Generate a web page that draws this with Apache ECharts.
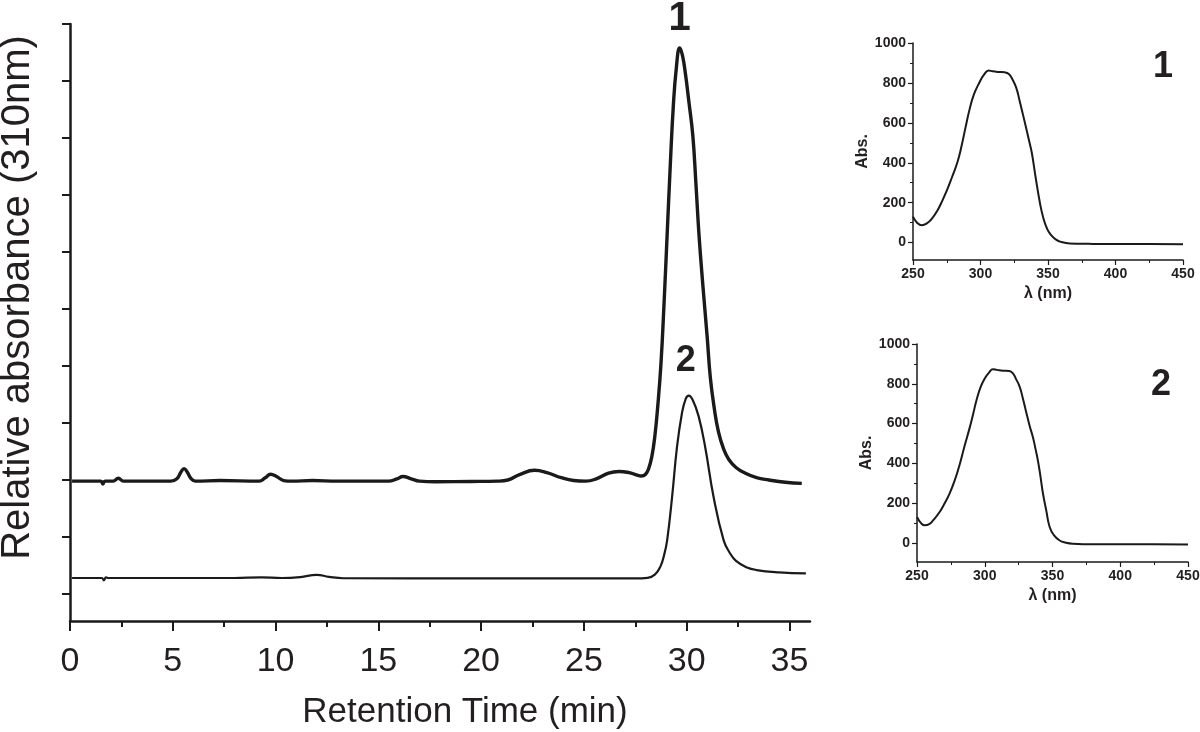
<!DOCTYPE html>
<html>
<head>
<meta charset="utf-8">
<script src="https://cdn.jsdelivr.net/npm/echarts@6/dist/echarts.min.js"></script>
<style>html,body{margin:0;padding:0;background:#fff;}#chart{width:1200px;height:732px;}</style>
</head>
<body>
<div id="chart"></div>
<script>
// ---- Chromatogram (main panel) ----
const time1 = [0.1,1.5,1.6,1.7,2.1,2.35,2.6,4.9,5.2,5.4,5.55,5.7,5.9,6.1,7.3,9.2,9.5,9.76,10.05,10.4,10.8,11.8,13.0,15.5,15.9,16.2,16.6,17.0,17.8,19.5,20.8,21.3,21.9,22.6,23.2,23.9,24.5,25.1,25.6,26.2,26.7,27.2,27.55,27.8,28.0,28.15,28.3,28.45,28.6,28.75,28.9,29.05,29.2,29.35,29.5,29.66,29.8,29.95,30.1,30.3,30.45,30.6,30.8,31.0,31.15,31.35,31.55,31.8,32.05,32.4,32.85,33.4,34.0,34.8,35.6];
const abs1  = [0.99,0.99,0.965,0.99,0.99,1.015,0.99,0.99,1.01,1.07,1.10,1.07,1.01,0.99,0.995,0.99,1.02,1.05,1.03,0.995,0.99,0.995,0.99,0.99,1.01,1.03,1.01,0.99,0.985,0.987,0.99,1.0,1.05,1.085,1.065,1.02,0.995,0.99,1.01,1.06,1.075,1.065,1.045,1.035,1.05,1.10,1.20,1.38,1.66,2.02,2.55,3.15,3.75,4.28,4.62,4.79,4.72,4.55,4.33,4.02,3.60,3.15,2.68,2.25,1.90,1.62,1.42,1.27,1.18,1.11,1.06,1.02,1.0,0.98,0.97];
const time2 = [0.1,1.55,1.65,1.75,1.9,8.0,9.3,10.3,11.2,12.0,12.6,13.3,20.0,27.5,28.1,28.45,28.72,28.9,29.05,29.29,29.53,29.77,29.95,30.1,30.3,30.58,30.9,31.31,31.8,32.1,32.4,32.9,33.4,34.5,35.8];
const abs2  = [0.14,0.14,0.12,0.145,0.14,0.14,0.146,0.14,0.148,0.168,0.15,0.138,0.137,0.137,0.142,0.17,0.24,0.34,0.47,0.85,1.29,1.585,1.71,1.74,1.70,1.56,1.29,0.85,0.47,0.36,0.29,0.235,0.21,0.19,0.18];
const peakLabels = ['1','2'];
const xMajorTicks = [0,5,10,15,20,25,30,35];
const xMinorTicks = [2.5,7.5,12.5,17.5,22.5,27.5,32.5];
const yTicks = [0,0.5,1,1.5,2,2.5,3,3.5,4,4.5,5];

// ---- UV spectra (insets) ----
const wl1   = [250,253,256.5,260,264,268,271,275,279,283,286,289,292,295,299,303,306,309,313,318,321,323.5,326.5,329,331.5,336,338,341,344,346.3,349,352,356,360,366,380,400,425,450];
const spec1 = [130,100,87,95,120,160,200,260,330,405,485,580,670,740,800,845,862,858,855,853,845,820,775,710,640,510,450,320,200,130,75,40,15,3,-4,-6,-7,-7,-8];
const wl2   = [250,253,255.7,259,262,266.7,270,274.1,278,281.5,285,288.9,291.5,294,297,300,303,306.1,309,313.5,318,320.8,323,325.8,328,330.7,333,335.6,337.5,339.3,341,343,345.5,347.9,351,355.3,360,365,380,400,425,450];
const spec2 = [131,100,89,95,115,156,195,250,318,395,485,580,650,720,785,827,855,873,870,866,864,852,825,785,730,655,592,530,472,412,340,248,160,81,40,13,2,-3,-6,-6,-6,-7];
const insetMajor = [0,200,400,600,800,1000];
const insetMinor = [100,300,500,700,900];
const insetLabels = ['1','2'];

const ink = '#1a1a1a';
const txt = '#231f20';
const mainFont = '"Liberation Sans",Arial,sans-serif';
const boldFont = '"Liberation Sans",Arial,sans-serif';

function pairs(xs, ys){ return xs.map((x,i)=>[x, ys[i]]); }

function insetX(grid){
  return {
    gridIndex: grid, type:'value', min:250, max:450, interval:50,
    axisLine:{show:true, onZero:false, lineStyle:{color:ink, width:1.5}},
    axisTick:{show:true, inside:false, length:5, lineStyle:{color:ink, width:1.2}},
    minorTick:{show:true, splitNumber:2, length:3, lineStyle:{color:ink, width:1}},
    splitLine:{show:false}, minorSplitLine:{show:false},
    axisLabel:{color:txt, fontFamily:boldFont, fontWeight:'bold', fontSize:14, margin:7, formatter:v=>String(v)},
    name:'λ (nm)', nameLocation:'middle', nameGap:26,
    nameTextStyle:{color:txt, fontFamily:boldFont, fontWeight:'bold', fontSize:16}
  };
}
function insetY(grid, min){
  return {
    gridIndex: grid, type:'value', min:min, max:1000,
    axisLine:{show:true, onZero:false, lineStyle:{color:ink, width:1.5}},
    axisTick:{show:true, length:5, customValues:insetMajor, lineStyle:{color:ink, width:1.2}},
    axisLabel:{color:txt, fontFamily:boldFont, fontWeight:'bold', fontSize:14, margin:7, customValues:insetMajor, formatter:v=>String(v)},
    splitLine:{show:false},
    name:'Abs.', nameLocation:'middle', nameGap:34,
    nameTextStyle:{color:txt, fontFamily:boldFont, fontWeight:'bold', fontSize:16}
  };
}
function insetYMinor(grid, min){
  return {
    gridIndex: grid, type:'value', min:min, max:1000, position:'left',
    axisLine:{show:false, onZero:false},
    axisTick:{show:true, length:3, customValues:insetMinor, lineStyle:{color:ink, width:1}},
    axisLabel:{show:false}, splitLine:{show:false}
  };
}

const chart = echarts.init(document.getElementById('chart'), null, {renderer:'canvas'});
const option = {
  animation:false,
  backgroundColor:'#ffffff',
  title:[
    {text:insetLabels[0], left:1148, top:44, textStyle:{color:txt, fontFamily:boldFont, fontWeight:'bold', fontSize:36}},
    {text:insetLabels[1], left:1146, top:362, textStyle:{color:txt, fontFamily:boldFont, fontWeight:'bold', fontSize:36}}
  ],
  grid:[
    {left:70, top:24, width:740, height:597, outerBoundsMode:'none', containLabel:false},
    {left:913, top:43, width:270, height:217, outerBoundsMode:'none', containLabel:false},
    {left:917, top:344, width:271, height:218, outerBoundsMode:'none', containLabel:false}
  ],
  xAxis:[
    {
      gridIndex:0, type:'value', min:0, max:36, position:'bottom',
      axisLine:{show:true, onZero:false, lineStyle:{color:ink, width:2.5}},
      axisTick:{show:true, length:10, customValues:xMajorTicks, lineStyle:{color:ink, width:2}},
      axisLabel:{color:txt, fontFamily:mainFont, fontSize:34, margin:24, customValues:xMajorTicks},
      splitLine:{show:false},
      name:'Retention Time (min)', nameLocation:'middle', nameGap:74,
      nameTextStyle:{color:txt, fontFamily:mainFont, fontSize:35, padding:[0,0,0,50]}
    },
    {
      gridIndex:0, type:'value', min:0, max:36, position:'bottom',
      axisLine:{show:false, onZero:false},
      axisTick:{show:true, length:6, customValues:xMinorTicks, lineStyle:{color:ink, width:2}},
      axisLabel:{show:false}, splitLine:{show:false}
    },
    insetX(1), insetX(2)
  ],
  yAxis:[
    {
      gridIndex:0, type:'value', min:-0.237, max:5, position:'left',
      axisLine:{show:true, onZero:false, lineStyle:{color:ink, width:2.5}},
      axisTick:{show:true, length:8, customValues:yTicks, lineStyle:{color:ink, width:2}},
      axisLabel:{show:false}, splitLine:{show:false},
      name:'Relative absorbance (310nm)', nameLocation:'middle', nameGap:32,
      nameTextStyle:{color:txt, fontFamily:mainFont, fontSize:40, padding:[0,0,0,50]}
    },
    insetY(1,-87), insetYMinor(1,-87),
    insetY(2,-95), insetYMinor(2,-95)
  ],
  series:[
    {
      type:'line', xAxisIndex:0, yAxisIndex:0, data:pairs(time1, abs1),
      showSymbol:false, smooth:0.45,
      lineStyle:{color:ink, width:3.4}, z:3,
      markPoint:{
        symbol:'rect', symbolSize:1, itemStyle:{color:'rgba(0,0,0,0)'},
        label:{show:true, position:'top', distance:8, color:txt, fontFamily:boldFont, fontWeight:'bold', fontSize:40, formatter:peakLabels[0]},
        data:[{coord:[time1[abs1.indexOf(Math.max(...abs1))], Math.max(...abs1)]}]
      }
    },
    {
      type:'line', xAxisIndex:0, yAxisIndex:0, data:pairs(time2, abs2),
      showSymbol:false, smooth:0.45,
      lineStyle:{color:ink, width:2.2}, z:3,
      markPoint:{
        symbol:'rect', symbolSize:1, itemStyle:{color:'rgba(0,0,0,0)'},
        label:{show:true, position:'top', distance:16, offset:[-3,0], color:txt, fontFamily:boldFont, fontWeight:'bold', fontSize:36, formatter:peakLabels[1]},
        data:[{coord:[time2[abs2.indexOf(Math.max(...abs2))], Math.max(...abs2)]}]
      }
    },
    {
      type:'line', xAxisIndex:2, yAxisIndex:1, data:pairs(wl1, spec1),
      showSymbol:false, smooth:0.5,
      lineStyle:{color:ink, width:2}
    },
    {
      type:'line', xAxisIndex:3, yAxisIndex:3, data:pairs(wl2, spec2),
      showSymbol:false, smooth:0.5,
      lineStyle:{color:ink, width:2}
    }
  ]
};
chart.setOption(option);
</script>
</body>
</html>
